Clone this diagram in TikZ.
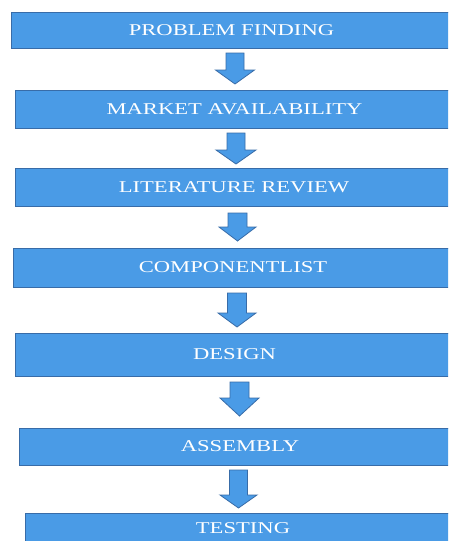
\documentclass[tikz,border=0pt]{standalone}
\usepackage{fontspec}
\setmainfont{Liberation Serif}
\definecolor{boxfill}{RGB}{74,155,230}
\definecolor{boxline}{RGB}{56,108,168}
\tikzset{
  stage/.style={draw=boxline, fill=boxfill, line width=0.9pt, text=white,
    font=\fontsize{16.5}{18}\selectfont, inner sep=0pt, anchor=center},
  blockarrow/.style={draw=boxline, fill=boxfill, line width=0.8pt, line join=miter}
}
% stretched caption text
\newcommand\widetext[1]{\scalebox{1.37}[1]{#1}}
% downward block arrow: centre x, top, head start, tip, shaft half width, head half width
\newcommand\stagearrow[6]{%
  \draw[blockarrow] (#1-#5,#2) -- (#1+#5,#2) -- (#1+#5,#3) -- (#1+#6,#3)
    -- (#1,#4) -- (#1-#6,#3) -- (#1-#5,#3) -- cycle;}
\begin{document}
\begin{tikzpicture}[x=1pt,y=-1pt]
  \clip (0,0) rectangle (448,541);
  \fill[white] (0,0) rectangle (448,541);

  \node[stage, minimum width=441pt, minimum height=36pt] (s1) at (231.5,30)    {\widetext{PROBLEM FINDING}};
  \node[stage, minimum width=439pt, minimum height=38pt] (s2) at (234.5,109)   {\widetext{MARKET AVAILABILITY}};
  \node[stage, minimum width=438pt, minimum height=38pt] (s3) at (234,187)     {\widetext{LITERATURE REVIEW}};
  \node[stage, minimum width=440pt, minimum height=39pt] (s4) at (233,267.5)   {\widetext{COMPONENTLIST}};
  \node[stage, minimum width=439pt, minimum height=43pt] (s5) at (234.5,354.5) {\widetext{DESIGN}};
  \node[stage, minimum width=442pt, minimum height=37pt] (s6) at (240,446.5)   {\widetext{ASSEMBLY}};
  \node[stage, minimum width=436pt, minimum height=30pt] (s7) at (243,528)     {\widetext{TESTING}};

  \stagearrow{235}{53}{70}{84}{9}{19.5}
  \stagearrow{236}{133}{150}{164}{9}{20}
  \stagearrow{237.5}{213}{227}{241}{9.5}{18.5}
  \stagearrow{237}{293}{313}{327}{9.5}{19}
  \stagearrow{239.5}{382}{398}{416}{9.5}{19.5}
  \stagearrow{238.5}{470}{495}{508}{9}{18.5}
\end{tikzpicture}
\end{document}
